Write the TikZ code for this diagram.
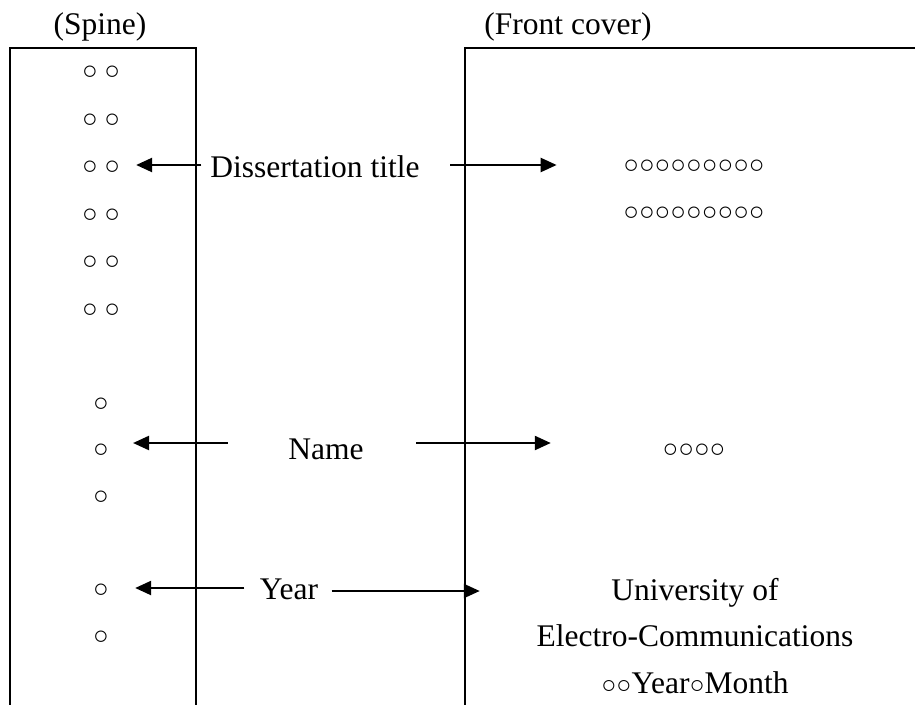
\documentclass[tikz,border=0pt]{standalone}
\usepackage{fontspec}
\setmainfont{Liberation Serif}
\usetikzlibrary{positioning,arrows.meta}

\begin{document}
\begin{tikzpicture}[x=1pt,y=-1pt,
	txt/.style={inner sep=0pt, text height=22pt, text depth=0pt, font=\fontsize{31.5}{40}\selectfont},
	ci/.style={inner sep=0pt, font=\fontsize{26}{30}\selectfont},
	arr/.style={-{Triangle[length=16pt,width=14pt]}, line width=2.3pt},
	edge/.style={line width=2.4pt}]
	
	\useasboundingbox (0,0) rectangle (915,704);
	
	% spine and front cover
	\draw[edge] (10,705) -- (10,48) -- (196,48) -- (196,705);
	\draw[edge] (465,705) -- (465,48) -- (916,48);
	
	\node[txt] (spine) at (100,23) {(Spine)};
	\node[txt] (front) at (568,23) {(Front cover)};
	
	% circles on the spine
	\foreach \i in {1,...,6}
		\node[ci] (sp\i) at (101,{73+47.5*(\i-1)}) {○ ○};
	\node[ci] (sn1) at (101,405) {○};
	\node[ci] (sn2) at (101,451) {○};
	\node[ci] (sn3) at (101,498) {○};
	\node[ci] (sy1) at (101,591) {○};
	\node[ci] (sy2) at (101,638) {○};
	
	% labels in between
	\node[txt] (title) at (315,166) {Dissertation title};
	\node[txt] (name) at (326,448) {Name};
	\node[txt] (year) at (289,588) {Year};
	
	% front cover
	\node[ci] (ft1) at (694,167) {○○○○○○○○○};
	\node[ci] (ft2) at (694,214) {○○○○○○○○○};
	\node[ci] (fn) at (694,451) {○○○○};
	\node[txt] (univ1) at (695,589) {University of};
	\node[txt, below=24.5pt of univ1] (univ2) {Electro-Communications};
	\node[txt, below=24.5pt of univ2] (univ3) {{\fontsize{25}{30}\selectfont○○}Year{\fontsize{25}{30}\selectfont○}Month};
	
	% arrow levels
	\coordinate (lt) at (0,165);
	\coordinate (ln) at (0,443);
	\coordinate (lyl) at (0,588);
	\coordinate (lyr) at (0,591);
	
	% arrows
	\draw[arr, shorten <=9pt, shorten >=16pt] (title.west |- lt) -- (sp3.east |- lt);
	\draw[arr, shorten <=30.5pt, shorten >=66.5pt] (title.east |- lt) -- (ft1.west |- lt);
	\draw[arr, shorten <=60.4pt, shorten >=24pt] (name.west |- ln) -- (sn2.east |- ln);
	\draw[arr, shorten <=52.4pt, shorten >=111.6pt] (name.east |- ln) -- (fn.west |- ln);
	\draw[arr, shorten <=15.4pt, shorten >=26.1pt] (year.west |- lyl) -- (sy1.east |- lyl);
	\draw[arr, shorten <=13.4pt, shorten >=131.5pt] (year.east |- lyr) -- (univ1.west |- lyr);
	
\end{tikzpicture}
\end{document}
